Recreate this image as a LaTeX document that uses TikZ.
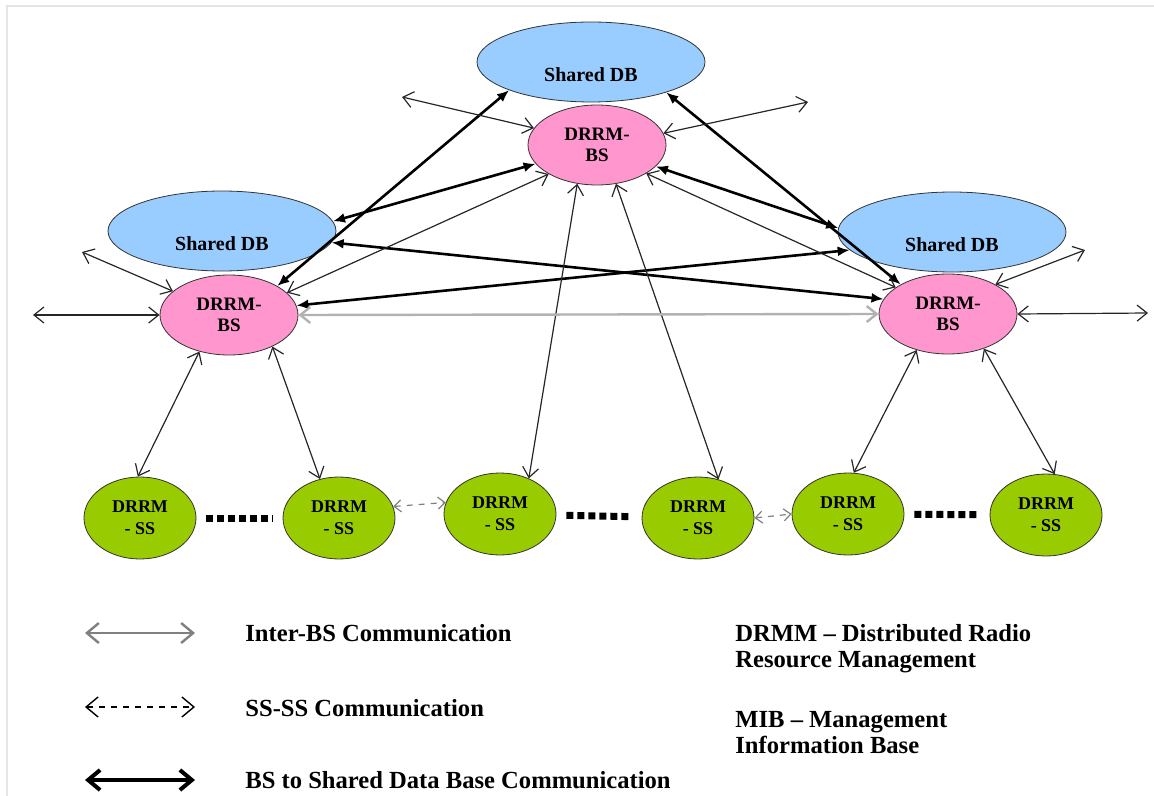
\documentclass[tikz,border=0pt]{standalone}
\usepackage{fontspec}
\setmainfont{Liberation Serif}
\usetikzlibrary{arrows.meta,shapes.geometric}
\definecolor{dbblue}{RGB}{153,204,255}
\definecolor{bspink}{RGB}{255,150,205}
\definecolor{ssgreen}{RGB}{153,204,0}
\tikzstyle{shareddb}=[ellipse,draw=black!80,fill=dbblue,minimum width=114pt,minimum height=40pt,inner sep=0pt,text height=20pt,font=\fontsize{10}{11}\selectfont\bfseries]
\tikzstyle{bs}=[ellipse,draw=black!80,fill=bspink,minimum width=69pt,minimum height=40pt,inner sep=0pt,align=center,font=\fontsize{9.5}{10.5}\selectfont\bfseries]
\tikzstyle{ss}=[ellipse,draw=black!80,fill=ssgreen,minimum width=56pt,minimum height=41pt,inner sep=0pt,align=center,font=\fontsize{9}{11}\selectfont\bfseries]
\tikzstyle{bsedge}=[draw,black!85,line width=0.6pt,>={Straight Barb[length=5pt,width=8pt]},<->]
\tikzstyle{interbs}=[draw,gray!60,line width=1.2pt,>={Straight Barb[length=5pt,width=8pt]},<->]
\tikzstyle{dbedge}=[draw,line width=1.3pt,>={Latex[length=6pt,width=5pt]},<->]
\tikzstyle{ssedge}=[draw,gray,dashed,line width=0.6pt,>={Straight Barb[length=3.5pt,width=6pt]},<->]
\tikzstyle{ssdots}=[draw,line width=3.5pt,dash pattern=on 3.5pt off 2pt,shorten <=5pt,shorten >=5pt]
\tikzstyle{legendarrow}=[draw,>={Straight Barb[length=6pt,width=10pt]},<->]
\tikzstyle{legendtext}=[anchor=west,align=left,inner sep=0pt,font=\fontsize{12.3}{13}\selectfont\bfseries]

\begin{document}
\begin{tikzpicture}[x=0.5pt,y=-0.5pt]
	\useasboundingbox (0,0) rectangle (1154,796);
	\draw[gray!20,line width=1pt] (7,796) -- (7,6) -- (1154,6);

	% First the data bases, base stations and subscriber stations
	\foreach \pos/\name in {{(591,62)/tdb}, {(222,231)/ldb}, {(952,232)/rdb}}
		\node[shareddb] (\name) at \pos {Shared DB};
	\foreach \pos/\name in {{(597,145)/tbs}, {(229,315)/lbs}, {(948,314)/rbs}}
		\node[bs] (\name) at \pos {DRRM-\\BS};
	\foreach \pos/\name in {{(140,518)/ss1}, {(339,518)/ss2}, {(500,514)/ss3},
							{(698,518)/ss4}, {(848,514)/ss5}, {(1046,515)/ss6}}
		\node[ss] (\name) at \pos {DRRM\\- SS};

	% Free ends of the outgoing links
	\foreach \pos/\name in {{(402,97)/tl}, {(808,102)/tr}, {(82,252)/ll},
							{(33,315)/lw}, {(1085,250)/rr}, {(1148,313)/re}}
		\path \pos coordinate (\name);

	% BS to shared data base links
	\foreach \source/\dest in {tdb.199/lbs.31, tdb.338/rbs.148, tbs.197/ldb.5,
							   tbs.340/rdb.178, ldb.354/rbs.167, lbs.8/rdb.190}
		\path[dbedge] (\source) -- (\dest);

	% Inter-BS and BS to SS links
	\foreach \source/\dest in {tbs.165/tl, tbs.10/tr, lbs.21/tbs.211, tbs.330/rbs.153,
							   lbs.157/ll, lbs.west/lw, rbs.32/rr, rbs.east/re,
							   lbs.231/ss1.93, lbs.324/ss2.116, tbs.243/ss3.51,
							   tbs.296/ss4.62, rbs.229/ss5.82, rbs.316/ss6.78}
		\path[bsedge] (\source) -- (\dest);
	\path[interbs] (lbs.east) -- (rbs.west);

	% SS-SS links
	\foreach \source/\dest in {ss2.12/ss3.168, ss4.east/ss5.west}
		\path[ssedge] (\source) -- (\dest);
	\foreach \source/\dest in {ss1/ss2, ss3/ss4, ss5/ss6}
		\path[ssdots] (\source) -- (\dest);

	% Legend
	\foreach \y/\name in {633/la, 707/lb, 780/lc} {
		\path (85,\y) coordinate (\name1);
		\path (195,\y) coordinate (\name2);
	}
	\path[legendarrow,gray,line width=1.2pt] (la1) -- (la2);
	\path[legendarrow,dashed,line width=0.7pt] (lb1) -- (lb2);
	\path[legendarrow,line width=2pt] (lc1) -- (lc2);
	\node[legendtext] (interbstext) at (245,633) {Inter-BS Communication};
	\node[legendtext] (sstext) at (245,708) {SS-SS Communication};
	\node[legendtext] (dbtext) at (245,780) {BS to Shared Data Base Communication};
	\node[legendtext] (drmmtext) at (735,649) {DRMM -- Distributed Radio\\Resource Management};
	\node[legendtext] (mibtext) at (735,733) {MIB -- Management\\Information Base};
\end{tikzpicture}
\end{document}
